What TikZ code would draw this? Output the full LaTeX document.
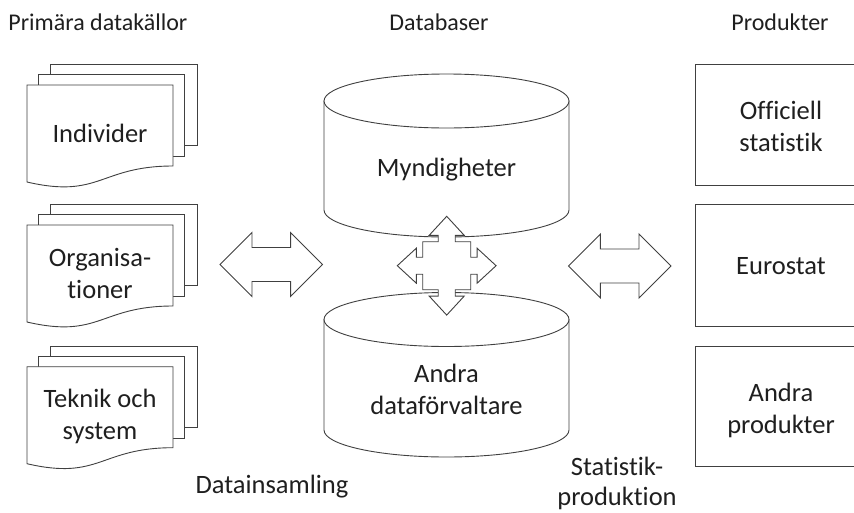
\documentclass[tikz,border=0pt]{standalone}
\usepackage{fontspec}
\setmainfont{Carlito}[RawFeature={-liga;-clig;-dlig;-calt;-rlig;-hlig}]
\begin{document}
\begin{tikzpicture}[x=1pt,y=-1pt,line width=0.9pt,
  shp/.style={draw=black!75,fill=white,line join=miter},
  lbl/.style={font=\fontsize{26.5}{32}\selectfont,text=black!88,align=center,inner sep=0pt},
  ttl/.style={font=\fontsize{24}{29}\selectfont,text=black!88,inner sep=0pt,anchor=base}]
\useasboundingbox (0,0) rectangle (854,512);
\clip (0,0) rectangle (854,512);
% document stacks
\foreach \o in {0,140,281.7}{
  \begin{scope}[shift={(0,\o)}]
    \draw[shp] (50,64.3) rectangle (197,145.7);
    \draw[shp] (38,74.3) rectangle (184,156.7);
    \draw[shp] (27,85) -- (173,85) -- (173,166) .. controls (100,166) and (100,199) .. (27,182) -- cycle;
  \end{scope}
}
% cylinders
\draw[shp] (324,101) -- (324,210) .. controls (324,224.9) and (378.8,237) .. (446.5,237)
  .. controls (514.2,237) and (569,224.9) .. (569,210) -- (569,101) -- cycle;
\draw[shp] (446.5,101) ellipse [x radius=122.5pt, y radius=27pt];
\draw[shp] (324,319.5) -- (324,430) .. controls (324,444.9) and (378.8,457) .. (446.5,457)
  .. controls (514.2,457) and (569,444.9) .. (569,430) -- (569,319.5) -- cycle;
\draw[shp] (446.5,319.5) ellipse [x radius=122.5pt, y radius=27pt];
% quad arrow callout
\begin{scope}[shift={(446.7,265.7)}]
\draw[shp] (0,-49.4) -- (17.5,-30.4) -- (8.5,-30.4) -- (8.5,-24) -- (24,-24) -- (24,-8.5) -- (30.4,-8.5) -- (30.4,-17.5)
 -- (49.4,0) -- (30.4,17.5) -- (30.4,8.5) -- (24,8.5) -- (24,24) -- (8.5,24) -- (8.5,30.4) -- (17.5,30.4)
 -- (0,49.4) -- (-17.5,30.4) -- (-8.5,30.4) -- (-8.5,24) -- (-24,24) -- (-24,8.5) -- (-30.4,8.5) -- (-30.4,17.5)
 -- (-49.4,0) -- (-30.4,-17.5) -- (-30.4,-8.5) -- (-24,-8.5) -- (-24,-24) -- (-8.5,-24) -- (-8.5,-30.4) -- (-17.5,-30.4) -- cycle;
\end{scope}
% double arrows
\foreach \cx/\cy in {271.3/264.5, 619.7/266}{
  \begin{scope}[shift={(\cx,\cy)}]
    \draw[shp] (-51.3,0) -- (-19.3,-32) -- (-19.3,-17) -- (19.3,-17) -- (19.3,-32) -- (51.3,0)
      -- (19.3,32) -- (19.3,17) -- (-19.3,17) -- (-19.3,32) -- cycle;
  \end{scope}
}
% product boxes
\draw[shp] (695.7,64.3) rectangle (866,185.7);
\draw[shp] (695.7,204.3) rectangle (866,326);
\draw[shp] (695.7,346) rectangle (866,466.7);
% texts
\node[lbl] (indiv) at (100,133) {Individer};
\node[lbl] (org) at (100,273.5) {Organisa-\\tioner};
\node[lbl] (tek) at (100,416) {Teknik och\\system};
\node[lbl] (mynd) at (446.5,170) {Myndigheter};
\node[lbl] (andra) at (446.5,389) {Andra\\dataförvaltare};
\node[lbl] (off) at (781,126) {Officiell\\statistik};
\node[lbl] (euro) at (781,266.5) {Eurostat};
\node[lbl] (prod) at (781,410) {Andra\\produkter};
\node[ttl,anchor=base west] (t1) at (8,30) {Primära datakällor};
\node[ttl] (t2) at (439,30) {Databaser};
\node[ttl] (t3) at (780,30) {Produkter};
\node[lbl,anchor=base] (dins) at (272,493) {Datainsamling};
\node[lbl,font=\fontsize{26.5}{30}\selectfont] (stat) at (617,483.5) {Statistik-\\produktion};
\end{tikzpicture}
\end{document}
